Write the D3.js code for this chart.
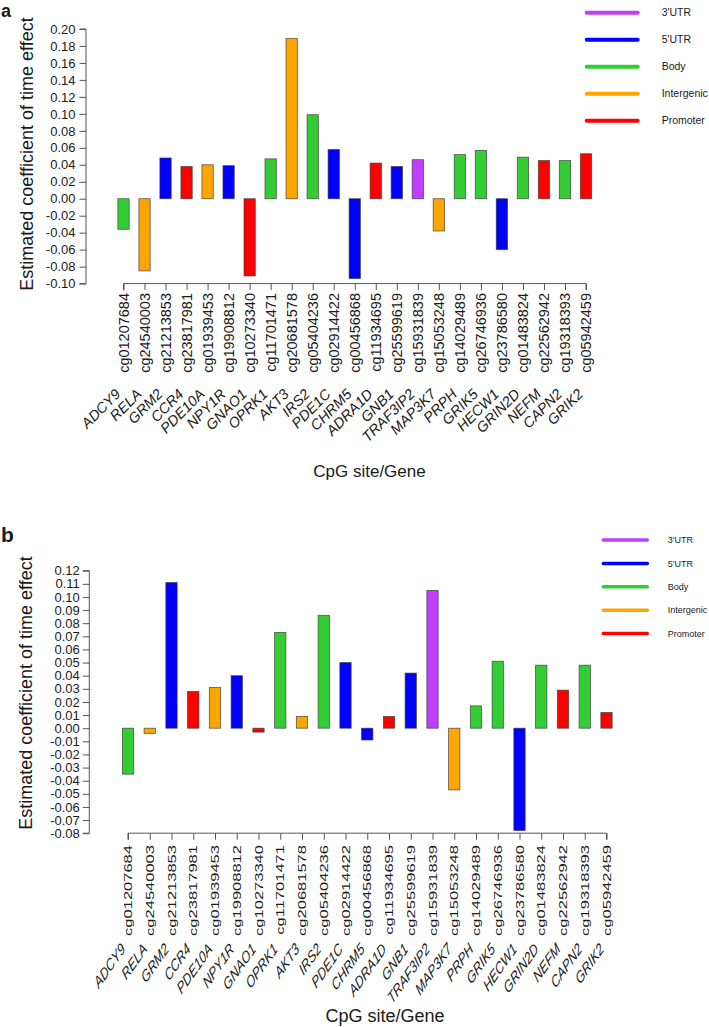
<!DOCTYPE html>
<html><head><meta charset="utf-8">
<script src="https://cdn.jsdelivr.net/npm/d3@7"></script>
<style>
body{margin:0;background:#fff}
svg{display:block}
text{font-family:"Liberation Sans",Arial,sans-serif;fill:#1a1a1a}
</style>
</head><body>
<svg id="c" width="709" height="1027"></svg>
<script>
const genes = ["ADCY9","RELA","GRM2","CCR4","PDE10A","NPY1R","GNAO1","OPRK1","AKT3","IRS2","PDE1C","CHRM5","ADRA1D","GNB1","TRAF3IP2","MAP3K7","PRPH","GRIK5","HECW1","GRIN2D","NEFM","CAPN2","GRIK2"];
const cpgSites = ["cg01207684","cg24540003","cg21213853","cg23817981","cg01939453","cg19908812","cg10273340","cg11701471","cg20681578","cg05404236","cg02914422","cg00456868","cg11934695","cg25599619","cg15931839","cg15053248","cg14029489","cg26746936","cg23786580","cg01483824","cg22562942","cg19318393","cg05942459"];
const regions = ["Body","Intergenic","5'UTR","Promoter","Intergenic","5'UTR","Promoter","Body","Intergenic","Body","5'UTR","5'UTR","Promoter","5'UTR","3'UTR","Intergenic","Body","Body","5'UTR","Body","Promoter","Body","Promoter"];
const valuesA = [-0.036,-0.085,0.048,0.038,0.040,0.039,-0.091,0.047,0.189,0.099,0.058,-0.094,0.042,0.038,0.046,-0.038,0.052,0.057,-0.060,0.049,0.045,0.045,0.053];
const valuesB = [-0.035,-0.004,0.111,0.028,0.031,0.040,-0.003,0.073,0.009,0.086,0.050,-0.009,0.009,0.042,0.105,-0.047,0.017,0.051,-0.078,0.048,0.029,0.048,0.012];
const ticksA = [-0.10,-0.08,-0.06,-0.04,-0.02,0.00,0.02,0.04,0.06,0.08,0.10,0.12,0.14,0.16,0.18,0.20];
const ticksB = [-0.08,-0.07,-0.06,-0.05,-0.04,-0.03,-0.02,-0.01,0.00,0.01,0.02,0.03,0.04,0.05,0.06,0.07,0.08,0.09,0.10,0.11,0.12];
const legendLabels = ["3'UTR","5'UTR","Body","Intergenic","Promoter"];
const legendColors = ["#BF3EFF","#0000FF","#32CD32","#FFA500","#FF0000"];
const yTitle = "Estimated coefficient of time effect";
const xTitle = "CpG site/Gene";

const color = d3.scaleOrdinal().domain(legendLabels).range(legendColors);
const svg = d3.select("#c");

function drawPanel(values, ticks, cfg) {
  const g = svg.append("g");
  const rows = genes.map((gname, i) => ({gene: gname, cg: cpgSites[i], region: regions[i], v: values[i]}));
  const x = d3.scalePoint().domain(cpgSites).range([cfg.x0, cfg.x1]);
  const y = d3.scaleLinear().domain([ticks[0], ticks[ticks.length - 1]]).range(cfg.yRange);

  // panel tag
  g.append("text").attr("x", cfg.tag[1]).attr("y", cfg.tag[2])
    .style("font-size", cfg.tagFont + "px").style("font-weight", "bold").text(cfg.tag[0]);

  // bars
  g.selectAll("rect.bar").data(rows).enter().append("rect")
    .attr("x", d => x(d.cg) - cfg.barW / 2)
    .attr("width", cfg.barW)
    .attr("y", d => y(Math.max(0, d.v)))
    .attr("height", d => Math.abs(y(d.v) - y(0)))
    .attr("fill", d => color(d.region))
    .attr("stroke", "#3a3a3a").attr("stroke-width", 0.8).attr("stroke-opacity", 0.8);

  // y axis
  const ya = g.append("g").attr("transform", `translate(${cfg.axisX},0)`)
    .call(d3.axisLeft(y).tickValues(ticks).tickFormat(d3.format(".2f")).tickSize(cfg.tickLen).tickPadding(cfg.tickPad));
  ya.select(".domain").attr("stroke", "#555").attr("d", `M-${cfg.tickLen},${y(ticks[0])}H0V${y(ticks[ticks.length-1])}H-${cfg.tickLen}`);
  ya.selectAll(".tick line").attr("stroke", "#555");
  ya.selectAll(".tick text").style("font-size", cfg.tickFont + "px").style("font-family", '"Liberation Sans",Arial,sans-serif').attr("fill", "#1a1a1a")
    .text(d => d3.format(".2f")(d).replace("−", "-"));

  // x axis
  const xa = g.append("g").attr("transform", `translate(0,${cfg.xAxisY})`)
    .call(d3.axisBottom(x).tickSize(cfg.tickLen).tickFormat(""));
  xa.select(".domain").attr("stroke", "#555").attr("d", `M${cfg.x0},${cfg.tickLen}V0H${cfg.x1}V${cfg.tickLen}`);
  xa.selectAll(".tick line").attr("stroke", "#555");

  // CpG site labels (vertical)
  g.selectAll("text.cg").data(rows).enter().append("text")
    .attr("transform", d => `translate(${x(d.cg)},${cfg.cgTop}) scale(${cfg.sx},${cfg.sy}) rotate(-90)`)
    .attr("text-anchor", "end").attr("dy", "0.36em")
    .style("font-size", cfg.cgFont + "px").text(d => d.cg);

  // gene labels (45 deg, italic)
  g.selectAll("text.gene").data(rows).enter().append("text")
    .attr("transform", d => `translate(${x(d.cg) + cfg.geneDx},${cfg.geneY}) scale(${cfg.sx},${cfg.sy}) rotate(-45)`)
    .attr("text-anchor", "end")
    .style("font-size", cfg.geneFont + "px").style("font-style", "italic").text(d => d.gene);

  // axis titles
  g.append("text").attr("x", cfg.xTitle[0]).attr("y", cfg.xTitle[1]).attr("text-anchor", "middle")
    .style("font-size", cfg.xTitle[2] + "px").text(xTitle);
  g.append("text").attr("transform", `translate(${cfg.yTitle[0]},${cfg.yTitle[1]}) rotate(-90)`).attr("text-anchor", "middle")
    .style("font-size", cfg.yTitle[2] + "px").text(yTitle);

  // legend
  const lg = g.selectAll("g.leg").data(legendLabels).enter().append("g")
    .attr("transform", (d, i) => `translate(0,${cfg.leg.y0 + i * cfg.leg.dy})`);
  lg.append("line").attr("x1", cfg.leg.x0).attr("x2", cfg.leg.x1).attr("y1", 0).attr("y2", 0)
    .attr("stroke", d => color(d)).attr("stroke-width", cfg.leg.lw).attr("stroke-linecap", "round");
  lg.append("text").attr("x", cfg.leg.tx).attr("y", 0).attr("dy", "0.35em")
    .style("font-size", cfg.leg.font + "px").text(d => d);
}

drawPanel(valuesA, ticksA, {
  tag: ["a", 1, 16.5], tagFont: 18,
  x0: 123.5, x1: 586, barW: 11.3,
  yRange: [283.6, 29], axisX: 86, xAxisY: 283.6,
  tickLen: 6.5, tickPad: 4, tickFont: 13,
  cgTop: 293, cgFont: 14.5, geneY: 395, geneDx: -2, geneFont: 14.5, sx: 1, sy: 1,
  xTitle: [369.5, 476.5, 17], yTitle: [33, 154, 18],
  leg: {x0: 586.7, x1: 637.7, y0: 12.7, dy: 27, tx: 661.7, font: 10.5, lw: 4}
});

drawPanel(valuesB, ticksB, {
  tag: ["b", 1, 542], tagFont: 21,
  x0: 128, x1: 606.5, barW: 11.3,
  yRange: [833.2, 570.7], axisX: 89.3, xAxisY: 833.2,
  tickLen: 6.5, tickPad: 3, tickFont: 13,
  cgTop: 845, cgFont: 14.5, geneY: 950, geneDx: -2, geneFont: 14.5, sx: 0.8, sy: 1.14,
  xTitle: [385, 1021.5, 18], yTitle: [32, 693, 18],
  leg: {x0: 603.3, x1: 647.3, y0: 540, dy: 23.4, tx: 667.7, font: 9, lw: 3.5}
});
</script>
</body></html>
